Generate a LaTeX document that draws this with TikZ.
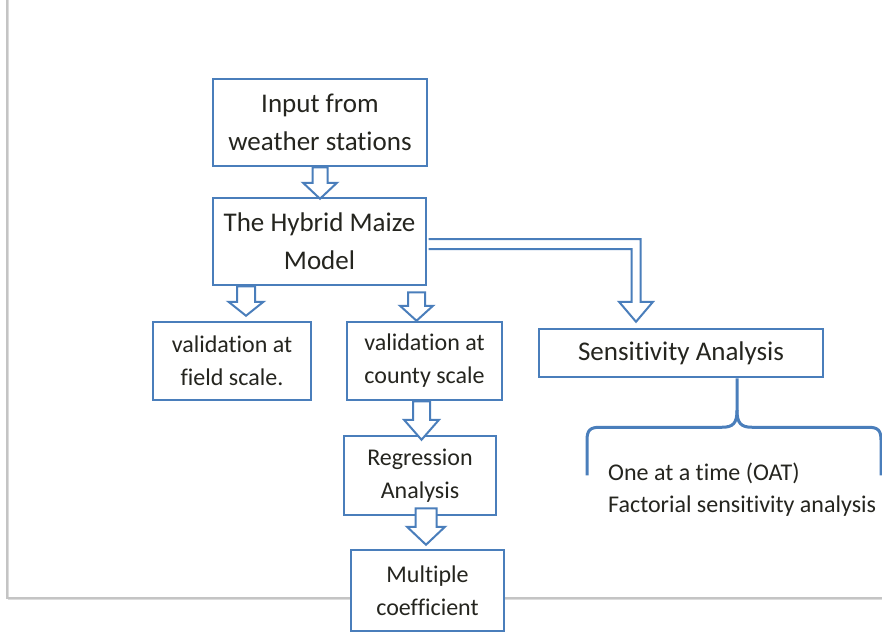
\documentclass[tikz,border=0pt]{standalone}
\usepackage{fontspec}
\setmainfont{Carlito}[Ligatures={NoCommon}]
\usetikzlibrary{calc}
\definecolor{boxblue}{HTML}{4A7EBB}
\definecolor{txt}{HTML}{25251F}
\definecolor{frame}{HTML}{C4C4C4}
\tikzset{
  x=1pt, y=-1pt,
  flowbox/.style={draw=boxblue, line width=2.5pt, fill=white, text=txt,
    align=center, inner sep=0pt},
  bigtext/.style={font=\fontsize{27}{38}\selectfont},
  smalltext/.style={font=\fontsize{24}{33}\selectfont},
  barrow/.style={draw=boxblue, line width=2pt, fill=white, line join=miter},
  bracket/.style={draw=boxblue, line width=3pt},
}
% hollow block arrow pointing down: #1 gives the top, #2 the tip,
% #3 shaft half width, #4 head half width, #5 head length
\newcommand\blockdown[5]{%
  \draw[barrow] let \p1=(#1), \p2=(#2) in
    (\x2-#3pt,\y1) -- (\x2-#3pt,\y2+#5pt) -- (\x2-#4pt,\y2+#5pt) -- (\x2,\y2)
    -- (\x2+#4pt,\y2+#5pt) -- (\x2+#3pt,\y2+#5pt) -- (\x2+#3pt,\y1) -- cycle;}
\begin{document}
\begin{tikzpicture}
\useasboundingbox (0,0) rectangle (882,635);
\clip (0,0) rectangle (882,635);
\fill[white] (0,0) rectangle (882,635);

% page frame
\draw[frame!60, line width=1.2pt] (8.5,0) -- (8.5,599.5) -- (882,599.5);
\draw[frame, line width=1.2pt] (7,0) -- (7,598) -- (882,598);

% boxes
\node[flowbox, bigtext, minimum width=214, minimum height=87] (inp) at (320,122.5)
  {Input from\\weather stations};
\node[flowbox, bigtext, minimum width=213, minimum height=87] (hm) at (319.5,241.5)
  {The Hybrid Maize\\Model};
\node[flowbox, smalltext, minimum width=158, minimum height=78] (vf) at (232,361)
  {validation at\\field scale.};
\node[flowbox, smalltext, minimum width=155, minimum height=78] (vc) at (424.5,361)
  {validation at\\county scale};
\node[flowbox, bigtext, minimum width=284, minimum height=48] (sens) at (681,353)
  {Sensitivity Analysis};
\node[flowbox, smalltext, minimum width=152, minimum height=79] (reg) at (420,475.5)
  {Regression\\Analysis};
\node[flowbox, smalltext, minimum width=153, minimum height=81] (mc) at (427.5,590.5)
  {Multiple\\coefficient};
\node[text=txt, align=left, anchor=west, inner sep=0pt,
  font=\fontsize{24}{32}\selectfont] (oat) at (608,490)
  {One at a time (OAT)\\Factorial sensitivity analysis};

% hollow arrows between boxes
\blockdown{inp.south}{$(hm.north)+(0.5,2)$}{7.5}{17}{16}
\blockdown{hm.south}{$(vf.north)+(14,-5)$}{9}{17.5}{14}
\blockdown{$(hm.south)+(0,6)$}{$(vc.north)+(-8,0)$}{8.5}{16.5}{15}
\blockdown{vc.south}{$(reg.north)+(1.5,5)$}{8.5}{17.5}{20}
\blockdown{$(reg.south)+(0,-8)$}{$(mc.north)+(-1.5,-4)$}{10.5}{19}{18}

% bent hollow arrow to the sensitivity analysis
\draw[barrow] let \p1=(hm.east), \p2=($(sens.north)+(-45,-6)$) in
  (\x1+1.25pt,\y1+2.5pt) -- (\x2+4.5pt,\y1+2.5pt) -- (\x2+4.5pt,\y2+20pt)
  -- (\x2+17pt,\y2+20pt) -- (\x2,\y2) -- (\x2-17pt,\y2+20pt)
  -- (\x2-4.5pt,\y2+20pt) -- (\x2-4.5pt,\y1-7.5pt) -- (\x1+1.25pt,\y1-7.5pt);

% curly bracket below the sensitivity analysis
\coordinate (bt) at ($(sens.south)+(56,0)$);
\begin{scope}[shift={(bt)}]
  \draw[bracket] (-150,97) -- (-150,62) .. controls (-150,52) and (-147,49) .. (-137,49)
    -- (-15,49) .. controls (-4,49) and (0,45) .. (0,32) -- (0,0);
  \draw[bracket] (0,32) .. controls (0,45) and (4,49) .. (15,49)
    -- (131,49) .. controls (141,49) and (144,52) .. (144,62) -- (144,97);
\end{scope}
\end{tikzpicture}
\end{document}
